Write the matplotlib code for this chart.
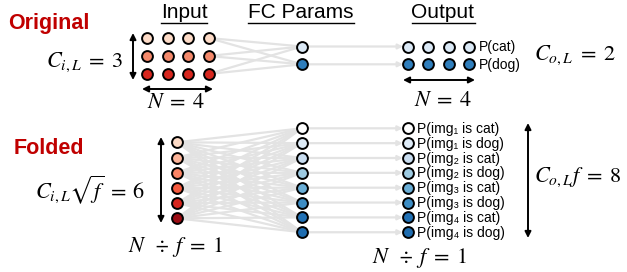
import matplotlib
matplotlib.use("Agg")
import matplotlib.pyplot as plt

plt.rcParams['font.family'] = ['Liberation Sans', 'DejaVu Sans']
plt.rcParams['mathtext.fontset'] = 'stix'

# ---- data ----
N = 4                      # samples
C_in = 3                   # input channels
C_out = 2                  # output classes
f = 4                      # fold factor
classes = ['cat', 'dog']
headers = ['Input', 'FC Params', 'Output']
orig_in_colors = ['#fddbc7', '#f4896b', '#d7261e']
fold_in_colors = ['#fddbc7', '#fcb499', '#fb8566', '#f55a3e', '#d7261e', '#9c0d14']
orig_out_colors = ['#dbe9f6', '#2f7ebc']
fold_out_colors = ['#ffffff', '#deebf7', '#c9ddf0', '#9dcae1', '#6aaed6', '#3d8dc4', '#2171b5', '#1f6db0']
sub = ['\u2081', '\u2082', '\u2083', '\u2084']
fold_labels = [f"P(img{sub[i]} is {c})" for i in range(N) for c in classes]

W, H = 627, 272
fig = plt.figure(figsize=(W / 100, H / 100), dpi=100)
ax = fig.add_axes([0, 0, 1, 1])
ax.set_xlim(0, W)
ax.set_ylim(H, 0)
ax.axis('off')

dark_red = '#c00000'
gray = '#e3e3e3'
ms = 7.8
mew = 1.4

def dot(x, y, c):
    ax.plot(x, y, 'o', ms=ms, mfc=c, mec='black', mew=mew, zorder=5)

def line(x0, y0, x1, y1):
    ax.plot([x0, x1], [y0, y1], color=gray, lw=1.6, zorder=1, solid_capstyle='butt')

def garrow(x0, y, x1):
    ax.annotate('', xy=(x1, y), xytext=(x0, y),
                arrowprops=dict(arrowstyle='-|>', color=gray, lw=1.6,
                                mutation_scale=7, shrinkA=0, shrinkB=0), zorder=1)

def barrow(x0, y0, x1, y1):
    ax.annotate('', xy=(x1, y1), xytext=(x0, y0),
                arrowprops=dict(arrowstyle='<|-|>', color='black', lw=1.4,
                                mutation_scale=9, shrinkA=0, shrinkB=0), zorder=3)

# headers
hx = [184, 301, 443]
for h, x in zip(headers, hx):
    t = ax.text(x, 13, h, ha='center', va='center', fontsize=15)
fig.canvas.draw()
r = fig.canvas.get_renderer()
for t in ax.texts:
    bb = t.get_window_extent(r)
    x0, x1 = bb.x0, bb.x1
    ax.plot([x0, x1], [22.5, 22.5], color='black', lw=1.0)

# section titles
ax.text(49, 24, 'Original', ha='center', va='center', fontsize=15.5, fontweight='bold', color=dark_red)
ax.text(49, 148, 'Folded', ha='center', va='center', fontsize=15.5, fontweight='bold', color=dark_red)

# ---- Original ----
in_x = [147 + 20.5 * j for j in range(N)]
in_y = [38 + 18 * i for i in range(C_in)]
fc_x = 302
fc_y = [46.5 + 17.8 * k for k in range(C_out)]
out_x = [408 + 20.3 * j for j in range(N)]
for i in range(C_in):
    for k in range(C_out):
        line(in_x[-1], in_y[i], fc_x, fc_y[k])
for i, c in enumerate(orig_in_colors):
    for x in in_x:
        dot(x, in_y[i], c)
for k, c in enumerate(orig_out_colors):
    dot(fc_x, fc_y[k], c)
    garrow(fc_x, fc_y[k], out_x[0] - 5)
    for x in out_x:
        dot(x, fc_y[k], c)
    ax.text(out_x[-1] + 10, fc_y[k] + 0.5, f'P({classes[k]})', ha='left', va='center', fontsize=10)

barrow(133, 33, 133, 80)
barrow(142, 89, 213, 89)
barrow(403, 80, 475, 80)
ax.text(85, 62, r'$C_{i,L}\;=\;3$', ha='center', va='center', fontsize=16)
ax.text(176, 103, r'$N\;=\;4$', ha='center', va='center', fontsize=16)
ax.text(575, 55, r'$C_{o,L}\;=\;2$', ha='center', va='center', fontsize=16)
ax.text(443, 101, r'$N\;=\;4$', ha='center', va='center', fontsize=16)

# ---- Folded ----
fin_x = 176.7
fin_y = [142.3 + 15.2 * i for i in range(len(fold_in_colors))]
ffc_y = [128.3 + 14.85 * k for k in range(len(fold_out_colors))]
fout_x = 407.7
for yi in fin_y:
    for yk in ffc_y:
        line(fin_x, yi, fc_x, yk)
for y, c in zip(fin_y, fold_in_colors):
    dot(fin_x, y, c)
for y, c, lab in zip(ffc_y, fold_out_colors, fold_labels):
    dot(fc_x, y, c)
    garrow(fc_x, y, fout_x - 5)
    dot(fout_x, y, c)
    ax.text(fout_x + 9, y + 0.5, lab, ha='left', va='center', fontsize=10)

barrow(161, 137, 161, 223)
barrow(528, 123, 528, 238)
ax.text(90, 190, r'$C_{i,L}\sqrt{f}\;=\;6$', ha='center', va='center', fontsize=16)
ax.text(176, 247, r'$N\;\;\div\; f\;=\;1$', ha='center', va='center', fontsize=16)
ax.text(578, 177, r'$C_{o,L}f\;=\;8$', ha='center', va='center', fontsize=16)
ax.text(420, 258, r'$N\;\;\div\; f\;=\;1$', ha='center', va='center', fontsize=16)

fig.savefig('out.png', dpi=100)
